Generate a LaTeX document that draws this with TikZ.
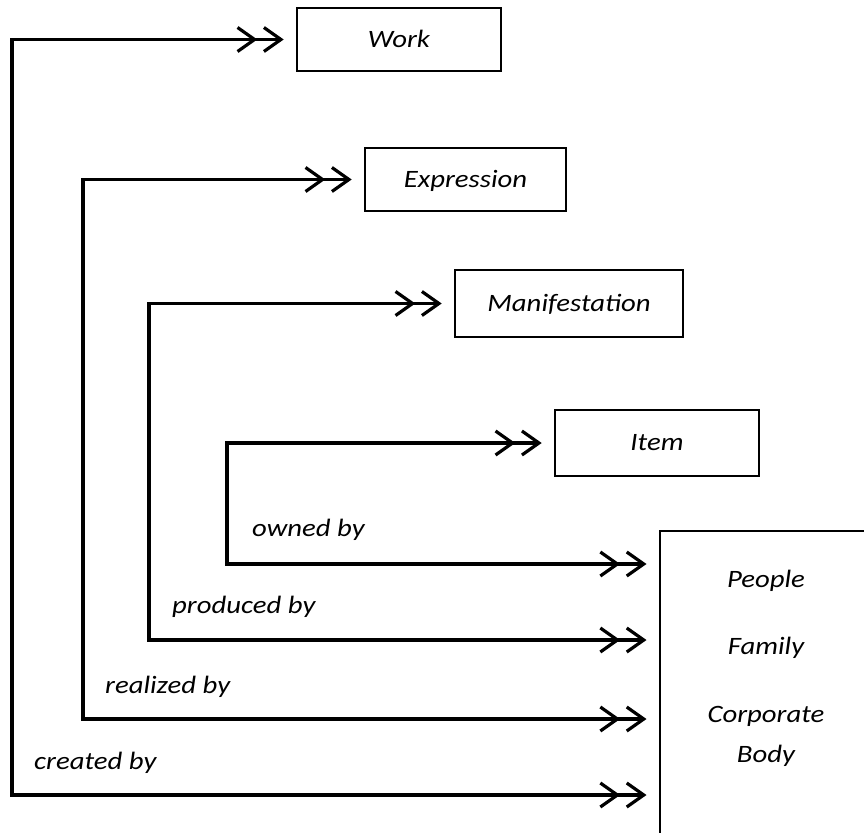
\documentclass[tikz,border=0pt]{standalone}
\usepackage{fontspec}
\setmainfont{Carlito}[FakeStretch=1.15]
\usetikzlibrary{arrows.meta}
\tikzset{
  ent/.style={draw, line width=2.6pt, inner sep=0pt, text height=15.8pt, text depth=0pt},
  conn/.style={line width=3.2pt, line cap=rect,
    -{Straight Barb[length=17pt,width=24pt,sep=5pt] Straight Barb[length=17pt,width=24pt]},
    shorten >=12pt},
  lbl/.style={anchor=base west, inner sep=0pt},
  inbox/.style={anchor=base, inner sep=0pt}
}
\begin{document}
\begin{tikzpicture}[x=1pt,y=-1pt,font=\fontsize{25}{30}\selectfont\itshape]
\useasboundingbox (0,0) rectangle (864,832);
\clip (0,0) rectangle (864,832);
\fill[white] (0,0) rectangle (864,832);
\node[ent, minimum width=204pt, minimum height=63pt] (work) at (399,39.5) {Work};
\node[ent, minimum width=201pt, minimum height=63pt] (expr) at (465.5,179.5) {Expression};
\node[ent, minimum width=228pt, minimum height=67pt] (manif) at (569,303.5) {Manifestation};
\node[ent, minimum width=204pt, minimum height=66pt] (item) at (657,443) {Item};
\node[draw, line width=2.6pt, minimum width=300pt, minimum height=400pt, anchor=north west, inner sep=0pt] (big) at (658.5,529.5) {};
\node[inbox] (people) at (766,587) {People};
\node[inbox] (family) at (766,654) {Family};
\node[inbox] (corp) at (766,722) {Corporate};
\node[inbox] (body) at (766,762) {Body};
\coordinate (k1) at (12,795);
\coordinate (k2) at (83,719);
\coordinate (k3) at (149,640);
\coordinate (k4) at (227,564);
\coordinate (t1) at (work.west -| k1);
\coordinate (t2) at (expr.west -| k2);
\coordinate (t3) at (manif.west -| k3);
\coordinate (t4) at (item.west -| k4);
\draw[conn] (t1) -- (work.west);
\draw[conn] (t1) |- (k1 -| big.west);
\draw[conn] (t2) -- (expr.west);
\draw[conn] (t2) |- (k2 -| big.west);
\draw[conn] (t3) -- (manif.west);
\draw[conn] (t3) |- (k3 -| big.west);
\draw[conn] (t4) -- (item.west);
\draw[conn] (t4) |- (k4 -| big.west);
\node[lbl] (owned) at (252,536) {owned by};
\node[lbl] (produced) at (172,613) {produced by};
\node[lbl] (realized) at (105,693) {realized by};
\node[lbl] (created) at (34,769) {created by};
\end{tikzpicture}
\end{document}
